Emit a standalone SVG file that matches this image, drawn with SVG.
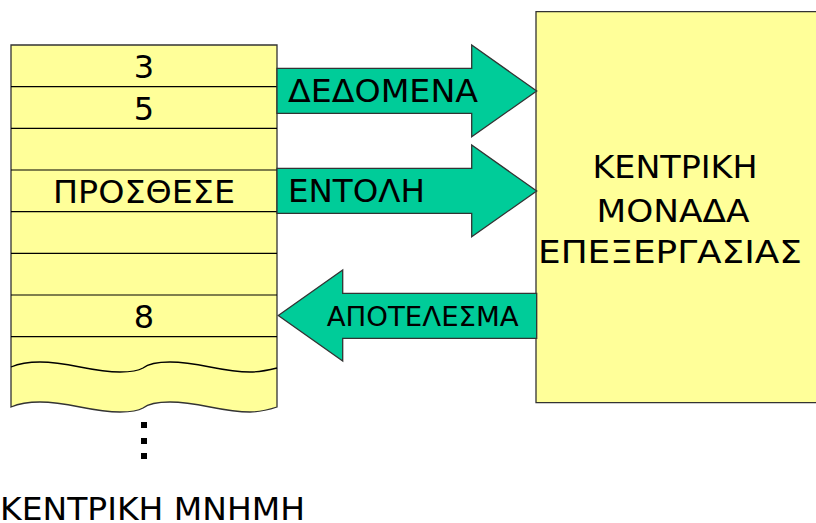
<svg xmlns="http://www.w3.org/2000/svg" width="816" height="523" viewBox="0 0 816 523">
  <style>
    .box { fill: #FFFF99; stroke: #333; stroke-width: 1.3; }
    .row { stroke: #000; stroke-width: 1.2; fill: none; }
    .wave { fill: none; stroke: #000; stroke-width: 1.3; }
    .arrow { fill: #00CC99; stroke: #333; stroke-width: 1.3; stroke-linejoin: miter; }
    .t { font-family: "DejaVu Sans", "Liberation Sans", sans-serif; fill: #000; }
    .big { font-size: 32px; }
    .mid { font-size: 26px; }
  </style>

  <!-- main memory: stacked cells with a torn lower edge -->
  <g id="memory">
    <path class="box" d="M11,45 H277 V407 C265,411 258,412 250,412 C220,412 200,402 170,402 C155,402 148,404 143,408 C138,411 130,412 120,412 C90,412 70,402 40,402 C28,402 18,404 11,407 Z"/>
    <line class="row" x1="11" y1="86.7" x2="277" y2="86.7"/>
    <line class="row" x1="11" y1="128.3" x2="277" y2="128.3"/>
    <line class="row" x1="11" y1="170" x2="277" y2="170"/>
    <line class="row" x1="11" y1="211.7" x2="277" y2="211.7"/>
    <line class="row" x1="11" y1="253.3" x2="277" y2="253.3"/>
    <line class="row" x1="11" y1="295" x2="277" y2="295"/>
    <line class="row" x1="11" y1="336.7" x2="277" y2="336.7"/>
    <path class="wave" d="M11,367 C18,364 28,362 40,362 C70,362 90,372 120,372 C130,372 138,371 143,368 C148,364 155,362 170,362 C200,362 220,372 250,372 C258,372 265,371 277,368"/>
    <text class="t big" x="144" y="78.3" text-anchor="middle">3</text>
    <text class="t big" x="144" y="120" text-anchor="middle">5</text>
    <text class="t big" x="144" y="203" text-anchor="middle" textLength="182" lengthAdjust="spacingAndGlyphs">ΠΡΟΣΘΕΣΕ</text>
    <text class="t big" x="144" y="327.7" text-anchor="middle">8</text>
    <rect x="141" y="422" width="6" height="6" fill="#000"/>
    <rect x="141" y="438" width="6" height="6" fill="#000"/>
    <rect x="141" y="453" width="6" height="6" fill="#000"/>
    <text class="t big" x="0" y="520" textLength="305" lengthAdjust="spacingAndGlyphs">ΚΕΝΤΡΙΚΗ ΜΝΗΜΗ</text>
  </g>

  <!-- central processing unit -->
  <g id="cpu">
    <path class="box" d="M817,11.7 H536 V402.7 H817"/>
    <text class="t big" x="675" y="178.3" text-anchor="middle" textLength="165" lengthAdjust="spacingAndGlyphs">ΚΕΝΤΡΙΚΗ</text>
    <text class="t big" x="673" y="221.7" text-anchor="middle" textLength="153" lengthAdjust="spacingAndGlyphs">ΜΟΝΑΔΑ</text>
    <text class="t big" x="670" y="263.3" text-anchor="middle" textLength="264" lengthAdjust="spacingAndGlyphs">ΕΠΕΞΕΡΓΑΣΙΑΣ</text>
  </g>

  <!-- block arrows between memory and CPU -->
  <g id="connectors">
    <g id="data">
      <path class="arrow" d="M277,68.3 H471.7 V45 L536.7,91 L471.7,136.7 V113.3 H277 Z"/>
      <text class="t big" x="288" y="101.7" textLength="190" lengthAdjust="spacingAndGlyphs">ΔΕΔΟΜΕΝΑ</text>
    </g>
    <g id="instruction">
      <path class="arrow" d="M277,168.3 H471.7 V145 L536.7,191 L471.7,236.7 V213.3 H277 Z"/>
      <text class="t big" x="288" y="201.7" textLength="137" lengthAdjust="spacingAndGlyphs">ΕΝΤΟΛΗ</text>
    </g>
    <g id="result">
      <path class="arrow" d="M536.7,293.3 H342.7 V270 L278.3,315.5 L342.7,361 V338.3 H536.7 Z"/>
      <text class="t mid" x="326.7" y="326" textLength="192" lengthAdjust="spacingAndGlyphs">ΑΠΟΤΕΛΕΣΜΑ</text>
    </g>
  </g>
</svg>
